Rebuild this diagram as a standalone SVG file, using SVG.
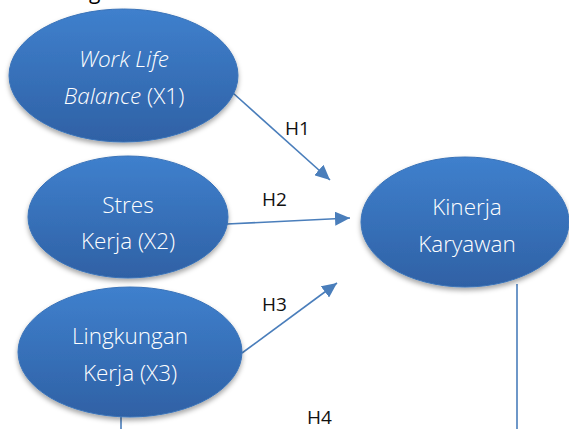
<svg xmlns="http://www.w3.org/2000/svg" width="569" height="429" viewBox="0 0 569 429">
<style>
.node{fill:url(#g1);stroke:#3a73b8;stroke-width:1;filter:url(#sh)}
.nt{font-family:"Open Sans","Liberation Sans",sans-serif;font-weight:300;font-size:22.5px;fill:#ffffff;text-anchor:middle}
.lbl{font-family:"Open Sans","Liberation Sans",sans-serif;font-size:19px;fill:#111111}
.conn{stroke:#4a7ebb;stroke-width:1.6;fill:none}
</style>
<defs>
<linearGradient id="g1" x1="0" y1="0" x2="0" y2="1">
<stop offset="0" stop-color="#3f80cd"/>
<stop offset="1" stop-color="#2f61a5"/>
</linearGradient>
<filter id="sh" x="-20%" y="-20%" width="140%" height="150%">
<feDropShadow dx="0" dy="3" stdDeviation="2.5" flood-color="#000000" flood-opacity="0.35"/>
</filter>
<marker id="ah" markerUnits="userSpaceOnUse" markerWidth="16" markerHeight="14" refX="15" refY="7" orient="auto">
<path d="M0,0 L15,7 L0,14 Z" fill="#4a7ebb"/>
</marker>
</defs>
<rect width="569" height="429" fill="#ffffff"/>
<text x="89" y="-1" font-family="Open Sans, Liberation Sans, sans-serif" font-size="21" fill="#000">g</text>
<g id="connectors">
<line class="conn" x1="233" y1="93" x2="330" y2="180" marker-end="url(#ah)"/>
<line class="conn" x1="227" y1="224" x2="350" y2="218" marker-end="url(#ah)"/>
<line class="conn" x1="242" y1="353" x2="337" y2="283" marker-end="url(#ah)"/>
<line class="conn" x1="121" y1="400" x2="121" y2="429"/>
<line class="conn" x1="517" y1="284" x2="517" y2="429"/>
</g>
<g id="n1">
<ellipse class="node" cx="123.5" cy="75.5" rx="114.5" ry="66.5"/>
<text class="nt" x="124" y="67" font-style="italic">Work Life</text>
<text class="nt" x="124" y="104"><tspan font-style="italic">Balance</tspan> (X1)</text>
</g>
<g id="n2">
<ellipse class="node" cx="128" cy="217" rx="100" ry="61"/>
<text class="nt" x="128" y="213">Stres</text>
<text class="nt" x="128" y="249">Kerja (X2)</text>
</g>
<g id="n3">
<ellipse class="node" cx="130" cy="352" rx="112" ry="65"/>
<text class="nt" x="130" y="344">Lingkungan</text>
<text class="nt" x="130" y="381">Kerja (X3)</text>
</g>
<g id="n4">
<ellipse class="node" cx="465" cy="222" rx="104" ry="65"/>
<text class="nt" x="467" y="215">Kinerja</text>
<text class="nt" x="467" y="252">Karyawan</text>
</g>
<g id="labels">
<text class="lbl" x="285" y="135">H1</text>
<text class="lbl" x="262" y="206">H2</text>
<text class="lbl" x="262" y="311">H3</text>
<text class="lbl" x="307" y="424">H4</text>
</g>
</svg>
